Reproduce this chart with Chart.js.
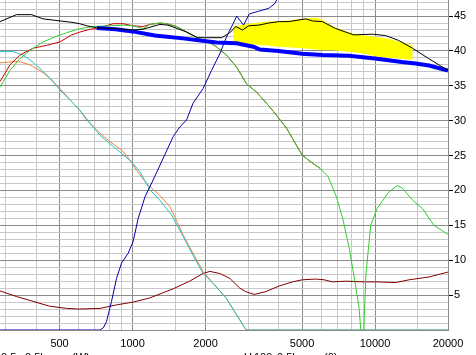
<!DOCTYPE html>
<html><head><meta charset="utf-8">
<script src="https://cdn.jsdelivr.net/npm/chart.js@4.4.0/dist/chart.umd.min.js"></script>
<style>html,body{margin:0;padding:0;background:#fff;overflow:hidden}canvas{display:block}</style>
</head><body>
<canvas id="c" width="476" height="355"></canvas>
<script>
// ---- data (frequency in Hz, level in dB) ----
const blackF = [284,332,383,427,502,562,606,648,712,850,993,1100,1296,1400,1674,1858,2025,2334,2518,2666,2841,3016,3316,3646,4009,4409,5181,5521,6070,6887,8170,9757,11070,12520,14260,16650,20000];
const blackV = [44.2,45.2,45.2,44.6,44.3,44.1,43.9,43.6,43.3,43.2,43.0,43.1,43.8,43.7,42.7,41.9,41.9,41.9,42.6,43.5,43.0,43.6,43.7,44.0,44.2,44.2,44.6,44.3,44.2,43.2,42.3,42.4,42.2,41.5,40.4,38.9,37.2];

const targetF = [712,850,1000,1236,1612,2218,2684,3150,3350,4000,5000,6070,7800,10000,12900,14700,16700,20000];
const targetV = [43.3,43.1,42.8,42.2,41.8,41.2,41.1,40.6,40.2,40.0,39.6,39.4,39.3,38.9,38.4,38.2,37.9,37.2];

const yellowF  = [2600,3000,3500,4000,4500,5000,5750,6100,6700,8100,9000,10100,11500,12600,14300];
const yellowHi = [43.5,43.9,44.2,44.3,44.4,44.6,44.8,44.4,43.5,42.5,42.2,42.0,41.7,41.3,40.8];
const yellowLo = [41.3,41.0,40.8,40.6,40.5,40.4,40.2,40.1,40.1,39.8,39.6,39.2,39.0,38.9,38.7];

const redF = [284,312,343,389,443,502,561,606,667,710,832,915,1006,1106,1179,1296,1381,1518,1670,1835,2050,2218,2441,2684,2950,3246,3674,3920,4320,5000,5380,5920];
const redV = [35.6,38.0,39.4,40.4,40.8,41.3,42.3,42.7,43.1,43.2,43.9,43.9,43.6,43.5,43.8,44.0,43.9,43.5,42.7,41.9,41.3,40.6,39.4,37.7,35.3,34.1,32.0,30.8,28.9,25.1,24.2,23.2];

const greenF = [284,312,343,378,428,486,534,606,688,806,915,1006,1106,1179,1296,1381,1518,1670,1835,2050,2218,2441,2684,2950,3246,3674,3920,4320,5000,5380,5920,6400,6930,7380,7850,8300,8600,8760,8980,9170,9600,10200,11400,12350,12900,14300,15700,17500,20000];
const greenV = [34.8,37.2,38.9,40.1,41.3,42.1,42.6,43.2,43.5,43.6,43.7,43.6,43.2,43.8,44.0,43.9,43.5,42.7,41.9,41.3,40.6,39.4,37.7,35.3,34.1,32.0,30.8,28.9,25.1,24.2,23.2,22.0,19.1,15.8,11.5,6.5,3.1,-0.5,-0.5,7.9,15.0,17.4,19.8,20.7,20.4,18.6,17.4,15.0,13.7];

const orangeF = [284,338,378,415,456,502,552,606,646,734,806,901,975,1039,1142,1296,1424,1494,1617,1776,1953,2150,2441,2640,2905,2950,20000];
const orangeV = [38.3,38.5,38.0,37.2,36.1,34.6,33.0,31.5,30.1,28.2,27.0,25.8,24.4,22.9,21.0,19.3,17.7,16.2,13.6,11.0,8.4,6.7,4.5,2.6,0.3,0,0];

const cyanF = [284,322,354,378,415,456,502,552,606,646,734,806,901,990,1072,1179,1296,1448,1617,1776,1953,2150,2441,2640,2905,2950,20000];
const cyanV = [39.9,39.9,39.4,38.7,37.5,36.1,34.4,33.0,31.5,30.3,27.9,26.7,25.3,24.1,22.7,20.1,18.6,16.5,13.4,10.7,8.1,6.7,4.5,2.6,0.3,0,0];

const navyF = [284,734,757,781,819,859,901,959,1006,1055,1126,1216,1337,1470,1566,1670,1776,1953,2117,2290,2441,2598,2690,2870,3030,3316,3646,3865,3950,4500];
const navyV = [0,0,0.3,1.2,4.1,7.4,9.6,11.0,12.7,16.0,19.1,21.5,24.6,27.7,29.1,30.1,32.5,34.6,37.2,39.6,42.0,43.9,45.0,43.7,45.3,45.7,46.1,46.8,47.5,49.0];

const maroonF = [284,332,389,456,534,597,734,859,1006,1179,1470,1720,1953,2085,2290,2518,2769,2930,3174,3546,4019,4567,5020,5698,6168,6670,7556,9003,10060,12170,13830,16710,20000];
const maroonV = [5.6,4.8,4.1,3.4,3.1,3.0,3.1,3.6,4.0,4.6,5.9,7.0,8.1,8.4,8.1,7.4,6.0,5.5,5.1,5.5,6.3,6.9,7.2,7.3,7.2,6.9,7.0,6.9,6.9,6.8,7.2,7.6,8.3];

// ---- axes ----
const xGrid = [300,400,500,600,700,800,900,1000,1500,2000,3000,4000,5000,6000,7000,8000,9000,10000,15000,20000];
const xLabels = [500,1000,2000,5000,10000,20000];
const yGrid = Array.from({length:48},(_,i)=>i);
const yLabels = [5,10,15,20,25,30,35,40,45];

function pts(f,v){return f.map((x,i)=>({x:x,y:v[i]}));}
function line(label,f,v,color,width){
  return {label:label,data:pts(f,v),borderColor:color,borderWidth:width,pointRadius:0,tension:0,fill:false};
}

const datasets = [
  line('total',blackF,blackV,'#000000',1),
  line('target',targetF,targetV,'#0000ff',4),
  line('tweeter',navyF,navyV,'#0000a8',1),
  line('woofer B',greenF,greenV,'#33cc33',1),
  line('woofer A',redF,redV,'#cc0000',1),
  line('lp B',cyanF,cyanV,'#22c4c4',1),
  line('lp A',orangeF,orangeV,'#e8843c',1),
  line('distortion',maroonF,maroonV,'#800000',1),
  Object.assign(line('area low',yellowF,yellowLo,'rgba(0,0,0,0)',0),{fill:false}),
  Object.assign(line('area high',yellowF,yellowHi,'rgba(0,0,0,0)',0),{fill:'-1',backgroundColor:'#ffff00'})
];

const bottomText = {
  id:'bottomText',
  afterDraw(chart){
    const c = chart.ctx;
    c.save();
    c.fillStyle = '#000';
    c.font = '11px "Liberation Sans", Arial, sans-serif';
    c.textBaseline = 'alphabetic';
    const y = 361;
    [['0.5',1],['0.5hs',25],['(W)',72],['U',244],['100',254],['0.5hs',277],['(0)',324]].forEach(t=>c.fillText(t[0],t[1],y));
    c.restore();
  }
};

new Chart(document.getElementById('c'),{
  type:'line',
  data:{datasets:datasets},
  plugins:[bottomText],
  options:{
    responsive:false, animation:false, devicePixelRatio:1,
    layout:{padding:0},
    plugins:{legend:{display:false},tooltip:{enabled:false},filler:{drawTime:'beforeDatasetsDraw'}},
    scales:{
      x:{type:'logarithmic',min:284,max:20000,position:'bottom',
        afterBuildTicks:s=>{s.ticks=xGrid.map(v=>({value:v}));},
        afterFit:s=>{s.height=25;s.paddingLeft=0;s.paddingRight=0;},
        ticks:{autoSkip:false,maxRotation:0,minRotation:0,padding:7,color:'#000',
          font:{family:'"Liberation Sans", Arial, sans-serif',size:11},
          callback:v=>xLabels.includes(v)?String(v):''},
        grid:{drawTicks:false,lineWidth:1,color:ctx=>xLabels.includes(ctx.tick&&ctx.tick.value)?'#8a8a8a':'#c8c8c8'},
        border:{display:false}
      },
      y:{type:'linear',position:'right',min:0,max:47.3,
        afterBuildTicks:s=>{s.ticks=yGrid.map(v=>({value:v}));},
        afterFit:s=>{s.width=28;s.paddingTop=0;s.paddingBottom=0;},
        ticks:{autoSkip:false,padding:1,color:'#000',
          font:{family:'"Liberation Sans", Arial, sans-serif',size:11},
          callback:v=>yLabels.includes(v)?String(v):''},
        grid:{tickLength:5,lineWidth:1,
          color:ctx=>(ctx.tick&&ctx.tick.value%5===0)?'#8a8a8a':'#c8c8c8',
          tickColor:ctx=>(ctx.tick&&yLabels.includes(ctx.tick.value))?'#000':'rgba(0,0,0,0)'},
        border:{display:true,color:'#8a8a8a'}
      }
    }
  }
});
</script>
</body></html>
